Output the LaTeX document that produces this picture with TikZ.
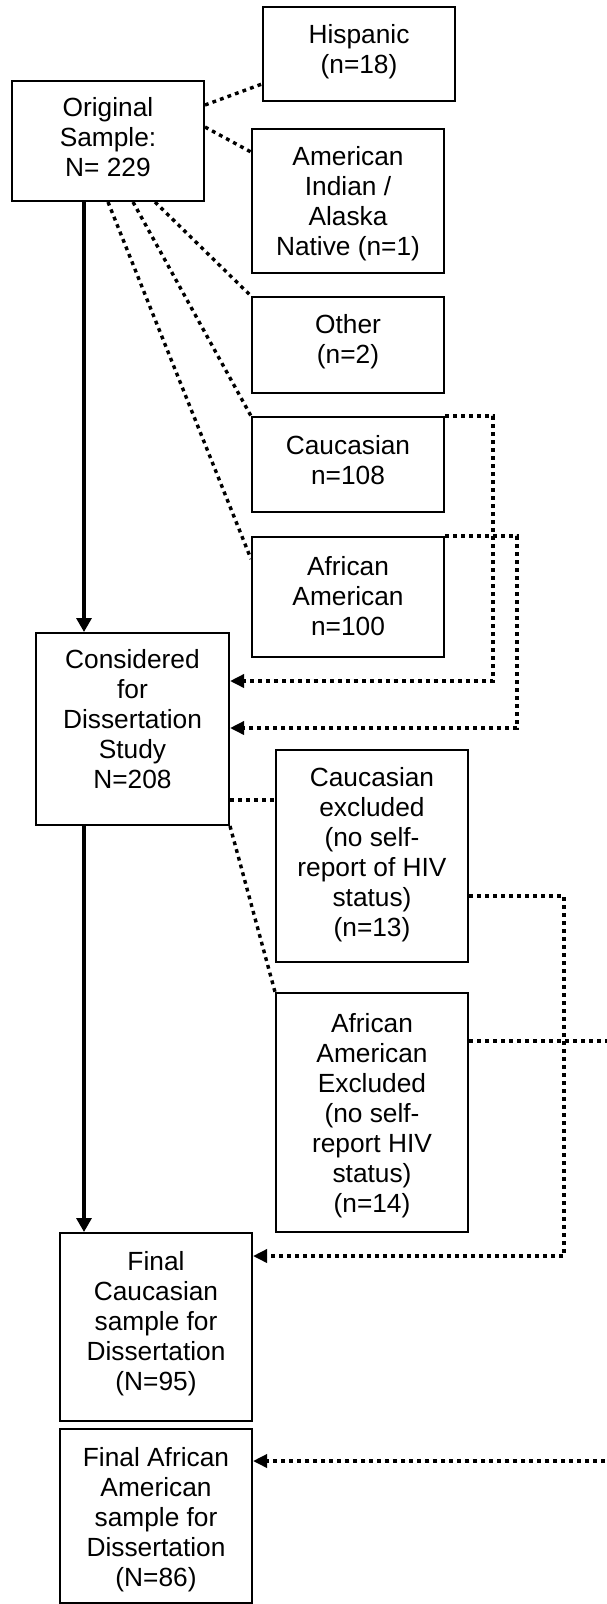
\documentclass[tikz,border=0pt]{standalone}
\usepackage{fontspec}
\setmainfont{Liberation Sans}
\usetikzlibrary{arrows.meta}

\tikzset{
  boxnode/.style={draw=black, line width=2pt, inner sep=0pt, fill=white},
  boxtext/.style={anchor=north, inner sep=0pt, align=center,
    font=\fontsize{26.3}{30}\selectfont},
  dotline/.style={line width=3.4pt, dash pattern=on 3.8pt off 4.2pt},
  dotarrow/.style={dotline, -{Triangle[length=14pt,width=13pt]}},
  mainarrow/.style={line width=3.2pt, -{Triangle[length=14pt,width=15pt]}}
}

\begin{document}
\begin{tikzpicture}[x=1pt, y=-1pt]
\useasboundingbox (0,0) rectangle (606,1604);

% boxes
\node[boxnode, minimum width=192pt, minimum height=120pt] (orig)  at (108,141)    {};
\node[boxnode, minimum width=192pt, minimum height=94pt]  (hisp)  at (359,54)     {};
\node[boxnode, minimum width=192pt, minimum height=144pt] (amind) at (348,201)    {};
\node[boxnode, minimum width=192pt, minimum height=96pt]  (other) at (348,345)    {};
\node[boxnode, minimum width=192pt, minimum height=95pt]  (cauc)  at (348,464.5)  {};
\node[boxnode, minimum width=192pt, minimum height=120pt] (afam)  at (348,597)    {};
\node[boxnode, minimum width=193pt, minimum height=192pt] (cons)  at (132.5,729)  {};
\node[boxnode, minimum width=192pt, minimum height=212pt] (cexc)  at (372,856)    {};
\node[boxnode, minimum width=192pt, minimum height=239pt] (aexc)  at (372,1112.5) {};
\node[boxnode, minimum width=192pt, minimum height=188pt] (fcau)  at (156,1327)   {};
\node[boxnode, minimum width=192pt, minimum height=174pt] (faa)   at (156,1516)   {};

% box texts
\node[boxtext] (origT)  at ([yshift=-17pt]orig.north)  {Original\\Sample:\\N= 229};
\node[boxtext] (hispT)  at ([yshift=-18pt]hisp.north)  {Hispanic\\(n=18)};
\node[boxtext] (amindT) at ([yshift=-18pt]amind.north) {American\\Indian /\\Alaska\\Native (n=1)};
\node[boxtext] (otherT) at ([yshift=-18pt]other.north) {Other\\(n=2)};
\node[boxtext] (caucT)  at ([yshift=-19pt]cauc.north)  {Caucasian\\n=108};
\node[boxtext] (afamT)  at ([yshift=-20pt]afam.north)  {African\\American\\n=100};
\node[boxtext] (consT)  at ([yshift=-17pt]cons.north)  {Considered\\for\\Dissertation\\Study\\N=208};
\node[boxtext] (cexcT)  at ([yshift=-18pt]cexc.north)  {Caucasian\\excluded\\(no self-\\report of HIV\\status)\\(n=13)};
\node[boxtext] (aexcT)  at ([yshift=-21pt]aexc.north)  {African\\American\\Excluded\\(no self-\\report HIV\\status)\\(n=14)};
\node[boxtext] (fcauT)  at ([yshift=-19pt]fcau.north)  {Final\\Caucasian\\sample for\\Dissertation\\(N=95)};
\node[boxtext] (faaT)   at ([yshift=-19pt]faa.north)   {Final African\\American\\sample for\\Dissertation\\(N=86)};

% main flow
\coordinate (s1) at ([xshift=-24pt]orig.south);
\draw[mainarrow] (s1) -- (s1 |- cons.north);
\coordinate (s2) at ([xshift=-48.5pt]cons.south);
\draw[mainarrow] (s2) -- (s2 |- fcau.north);

% split of the original sample
\draw[dotline] ([yshift=-25pt]orig.north east) -- ([yshift=-78pt]hisp.north west);
\draw[dotline] ([yshift=-47pt]orig.north east) -- ([yshift=-24pt]amind.north west);
\draw[dotline] ([xshift=47pt]orig.south) -- (other.north west);
\draw[dotline] ([xshift=25pt]orig.south) -- (cauc.north west);
\draw[dotline] (orig.south) -- ([yshift=-23pt]afam.north west);

% groups carried into the study
\draw[dotarrow] (cauc.north east) -- ++(48,0) |- ([yshift=-49pt]cons.north east);
\draw[dotarrow] (afam.north east) -- ++(72,0) |- ([yshift=-96pt]cons.north east);

% exclusions
\coordinate (c8) at ([yshift=-168pt]cons.north east);
\draw[dotline] (c8) -- (c8 -| cexc.west);
\draw[dotline] (cons.south east) -- (aexc.north west);

% final samples
\draw[dotarrow] ([yshift=-147pt]cexc.north east) -- ++(95,0) |- ([yshift=-24pt]fcau.north east);
\draw[dotarrow] ([yshift=-49pt]aexc.north east) -- ++(142,0) |- ([yshift=-33pt]faa.north east);
\end{tikzpicture}
\end{document}
